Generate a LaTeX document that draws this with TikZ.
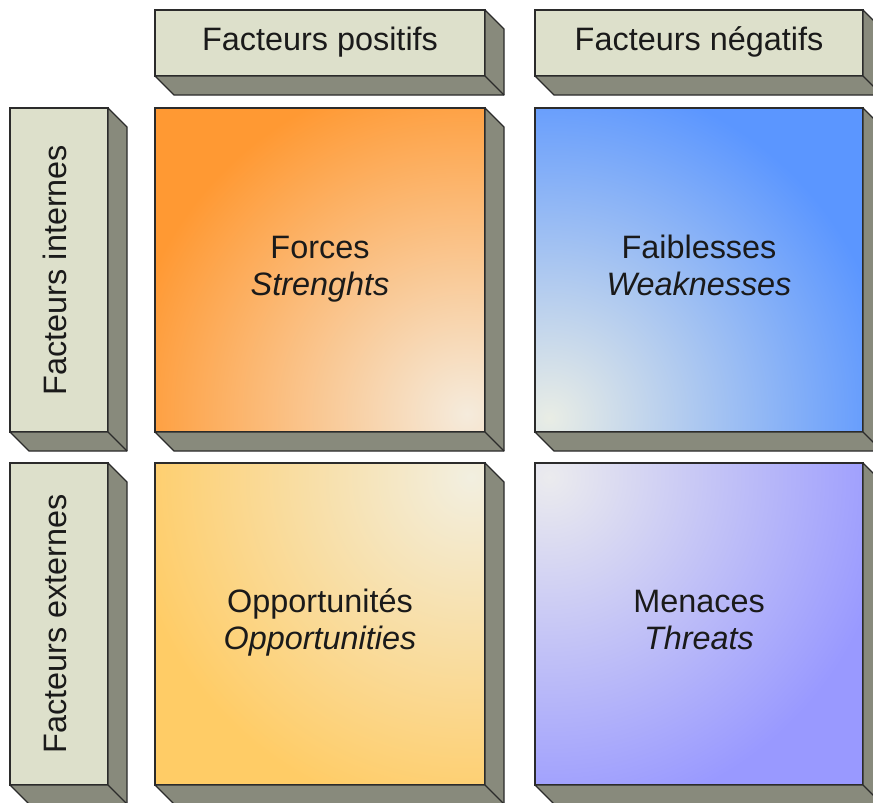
\documentclass[tikz,border=0pt]{standalone}
\usepackage{fontspec}
\setmainfont{Liberation Sans}
\usetikzlibrary{calc}
\definecolor{labelface}{HTML}{DDE0CB}
\definecolor{sideface}{HTML}{888A7C}
\definecolor{edgecol}{HTML}{2B2B2B}
\definecolor{txtcol}{HTML}{1A1A1A}
\definecolor{orangeC}{HTML}{FF9933}
\definecolor{orangeL}{HTML}{F5EBDC}
\definecolor{blueC}{HTML}{5B96FF}
\definecolor{blueL}{HTML}{E9EDE5}
\definecolor{yellowC}{HTML}{FFCC66}
\definecolor{yellowL}{HTML}{F2EFE0}
\definecolor{purpleC}{HTML}{9999FF}
\definecolor{purpleL}{HTML}{EBEBEE}
\tikzset{
  frontbox/.style={draw=edgecol, line width=1.3pt, inner sep=0pt, outer sep=0pt,
    anchor=north west, text=txtcol, align=center,
    font=\fontsize{32.4}{37}\selectfont},
  labelbox/.style={frontbox, fill=labelface},
  sidefill/.style={fill=sideface, draw=edgecol, line width=1.3pt, line join=round},
  grad/.style n args={4}{path picture={
      \fill[#1] (path picture bounding box.south west) rectangle (path picture bounding box.north east);
      \shade[inner color=#2, outer color=#1] ($(path picture bounding box.#3)+#4$) circle (345pt);
  }},
}
\newcommand\boxsides[1]{%
  \filldraw[sidefill] (#1.north east) -- ++(19,19) -- ($(#1.south east)+(19,19)$)
    -- ($(#1.south west)+(19,19)$) -- (#1.south west) -- (#1.south east) -- cycle;
  \draw[sidefill, fill=none] (#1.south east) -- ++(19,19);
}
\begin{document}
\begin{tikzpicture}[x=1pt,y=-1pt]
\useasboundingbox (0,0) rectangle (873,803);
\clip (0,0) rectangle (873,803);
% headers
\node[labelbox, minimum width=330pt, minimum height=66pt] (hpos) at (155,10) {\strut Facteurs positifs};
\boxsides{hpos}
\node[labelbox, minimum width=328pt, minimum height=66pt] (hneg) at (535,10) {\strut Facteurs négatifs};
\boxsides{hneg}
% row labels
\node[labelbox, minimum width=98pt, minimum height=324pt] (lint) at (10,108) {};
\node[text=txtcol, font=\fontsize{32.4}{37}\selectfont, rotate=90] (tint) at (lint.center) {\strut Facteurs internes};
\boxsides{lint}
\node[labelbox, minimum width=98pt, minimum height=322pt] (lext) at (10,463) {};
\node[text=txtcol, font=\fontsize{32.4}{37}\selectfont, rotate=90] (text) at (lext.center) {\strut Facteurs externes};
\boxsides{lext}
% quadrants
\node[frontbox, minimum width=330pt, minimum height=324pt,
  grad={orangeC}{orangeL}{south east}{(-18pt,18pt)}] (forces) at (155,108)
  {\strut Forces\\\strut\textit{Strenghts}};
\boxsides{forces}
\node[frontbox, minimum width=328pt, minimum height=324pt,
  grad={blueC}{blueL}{south west}{(14pt,14pt)}] (faib) at (535,108)
  {\strut Faiblesses\\\strut\textit{Weaknesses}};
\boxsides{faib}
\node[frontbox, minimum width=330pt, minimum height=322pt,
  grad={yellowC}{yellowL}{north east}{(-14pt,-14pt)}] (opp) at (155,463)
  {\strut Opportunités\\\strut\textit{Opportunities}};
\boxsides{opp}
\node[frontbox, minimum width=328pt, minimum height=322pt,
  grad={purpleC}{purpleL}{north west}{(14pt,-14pt)}] (men) at (535,463)
  {\strut Menaces\\\strut\textit{Threats}};
\boxsides{men}
\end{tikzpicture}
\end{document}
